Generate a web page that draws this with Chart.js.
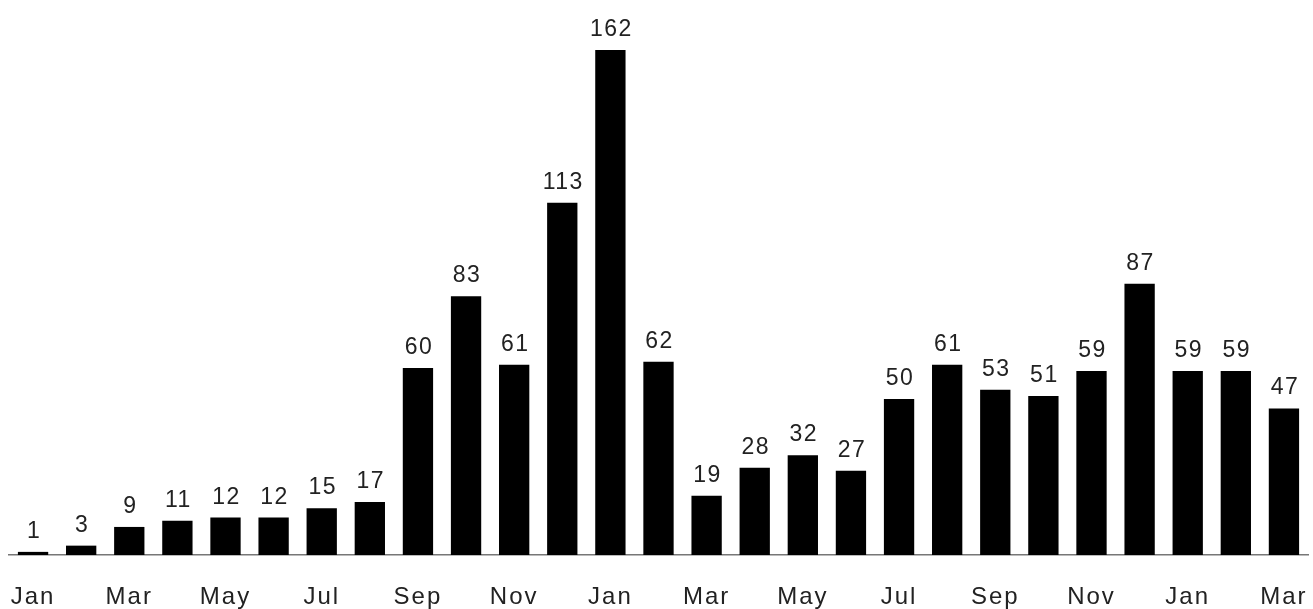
<!DOCTYPE html>
<html>
<head>
<meta charset="utf-8">
<title>Monthly counts</title>
<script src="https://cdn.jsdelivr.net/npm/chart.js@4"></script>
<style>
  html, body { margin: 0; padding: 0; background: #fff; overflow: hidden; }
  canvas { display: block; }
</style>
</head>
<body>
<canvas id="myChart" width="1313" height="609"></canvas>
<script>
// Monthly bars, Jan of year one to Mar of year three

const months = ["Jan", "Feb", "Mar", "Apr", "May", "Jun", "Jul", "Aug", "Sep", "Oct", "Nov", "Dec",
    "Jan", "Feb", "Mar", "Apr", "May", "Jun", "Jul", "Aug", "Sep", "Oct", "Nov", "Dec",
    "Jan", "Feb", "Mar"];

const counts = [1, 3, 9, 11, 12, 12, 15, 17, 60, 83, 61, 113, 162, 62,
    19, 28, 32, 27, 50, 61, 53, 51, 59, 87, 59, 59, 47];

// only every other month gets a label under the axis
const tickLabels = months.map((m, i) => i % 2 === 0 ? m : "");


// the printed type is set wide, so space the letters out a bit
const wideType = {
    id: 'wideType',
    beforeDraw(chart) {
        chart.ctx.letterSpacing = '2px';
    }
};

// numbers above each bar
const valueLabels = {
    id: 'valueLabels',
    afterDatasetsDraw(chart) {
        const ctx = chart.ctx;
        const meta = chart.getDatasetMeta(0);
        ctx.save();
        ctx.letterSpacing = '1.5px';
        ctx.font = '23px "Liberation Sans", Arial, sans-serif';
        ctx.fillStyle = '#222';
        ctx.textAlign = 'center';
        ctx.textBaseline = 'alphabetic';
        meta.data.forEach((bar, i) => {
            ctx.fillText(String(counts[i]), bar.x + 1, bar.y - 14);
        });
        ctx.restore();
    }
};


const ctx = document.getElementById('myChart').getContext('2d');
const myChart = new Chart(ctx, {
    type: 'bar',
    data: {
        labels: months,
        datasets: [{
            data: counts,
            backgroundColor: '#000',
            borderWidth: 0,
            barPercentage: 0.63,
            categoryPercentage: 1
        }]
    },
    options: {
        responsive: false,
        devicePixelRatio: 1,
        animation: false,
        layout: {
            padding: { left: 9, right: 5, top: 0, bottom: 0 }
        },
        plugins: {
            legend: { display: false },
            tooltip: { enabled: false }
        },
        scales: {
            x: {
                grid: { display: false, drawTicks: false },
                border: { display: true, color: '#777', width: 1.5 },
                ticks: {
                    autoSkip: false,
                    maxRotation: 0,
                    padding: 28,
                    color: '#222',
                    font: { family: '"Liberation Sans", Arial, sans-serif', size: 24 },
                    callback: (value, index) => tickLabels[index]
                },
                afterFit: (scale) => {
                    scale.height = 54;
                    scale.paddingLeft = 0;
                    scale.paddingRight = 0;
                }
            },
            y: {
                display: false,
                min: 0,
                max: 178
            }
        }
    },
    plugins: [wideType, valueLabels]
});
</script>
</body>
</html>
